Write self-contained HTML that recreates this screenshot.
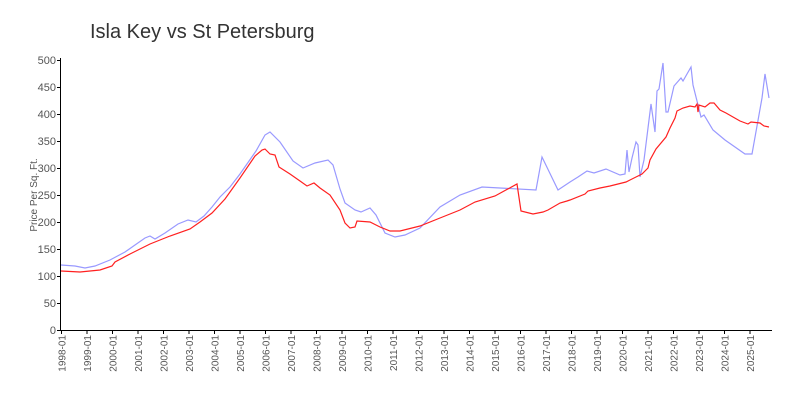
<!DOCTYPE html>
<html><head><meta charset="utf-8"><style>body{margin:0;background:#fff}svg{display:block}text{font-family:"Liberation Sans",sans-serif;fill:#555}</style></head><body>
<svg width="800" height="400" xmlns="http://www.w3.org/2000/svg">
<text x="90" y="38" font-size="20" style="fill:#333">Isla Key vs St Petersburg</text>
<text transform="translate(37,195) rotate(-90)" text-anchor="middle" font-size="10">Price Per Sq. Ft.</text>
<g font-size="11" text-anchor="end">
<text x="56" y="334">0</text><text x="56" y="307">50</text><text x="56" y="280">100</text><text x="56" y="253">150</text><text x="56" y="226">200</text><text x="56" y="199">250</text><text x="56" y="172">300</text><text x="56" y="145">350</text><text x="56" y="118">400</text><text x="56" y="91">450</text><text x="56" y="64">500</text>
</g>
<g stroke="#000" stroke-width="1">
<line x1="60.5" y1="58" x2="60.5" y2="330"/><line x1="60" y1="330.5" x2="772" y2="330.5"/>
<line x1="57" y1="330.5" x2="60" y2="330.5"/><line x1="57" y1="303.5" x2="60" y2="303.5"/><line x1="57" y1="276.5" x2="60" y2="276.5"/><line x1="57" y1="249.5" x2="60" y2="249.5"/><line x1="57" y1="222.5" x2="60" y2="222.5"/><line x1="57" y1="195.5" x2="60" y2="195.5"/><line x1="57" y1="168.5" x2="60" y2="168.5"/><line x1="57" y1="141.5" x2="60" y2="141.5"/><line x1="57" y1="114.5" x2="60" y2="114.5"/><line x1="57" y1="87.5" x2="60" y2="87.5"/><line x1="57" y1="60.5" x2="60" y2="60.5"/>
<line x1="61.5" y1="330" x2="61.5" y2="334"/><line x1="87" y1="330" x2="87" y2="334"/><line x1="112.5" y1="330" x2="112.5" y2="334"/><line x1="138" y1="330" x2="138" y2="334"/><line x1="163.5" y1="330" x2="163.5" y2="334"/><line x1="189" y1="330" x2="189" y2="334"/><line x1="214.5" y1="330" x2="214.5" y2="334"/><line x1="240" y1="330" x2="240" y2="334"/><line x1="265.5" y1="330" x2="265.5" y2="334"/><line x1="291" y1="330" x2="291" y2="334"/><line x1="316.5" y1="330" x2="316.5" y2="334"/><line x1="342" y1="330" x2="342" y2="334"/><line x1="367.5" y1="330" x2="367.5" y2="334"/><line x1="393" y1="330" x2="393" y2="334"/><line x1="418.5" y1="330" x2="418.5" y2="334"/><line x1="444" y1="330" x2="444" y2="334"/><line x1="469.5" y1="330" x2="469.5" y2="334"/><line x1="495" y1="330" x2="495" y2="334"/><line x1="520.5" y1="330" x2="520.5" y2="334"/><line x1="546" y1="330" x2="546" y2="334"/><line x1="571.5" y1="330" x2="571.5" y2="334"/><line x1="597" y1="330" x2="597" y2="334"/><line x1="622.5" y1="330" x2="622.5" y2="334"/><line x1="648" y1="330" x2="648" y2="334"/><line x1="673.5" y1="330" x2="673.5" y2="334"/><line x1="699" y1="330" x2="699" y2="334"/><line x1="724.5" y1="330" x2="724.5" y2="334"/><line x1="750" y1="330" x2="750" y2="334"/>
</g>
<g font-size="10" text-anchor="end">
<text transform="translate(65.5,335) rotate(-90)">1998-01</text>
<text transform="translate(91,335) rotate(-90)">1999-01</text>
<text transform="translate(116.5,335) rotate(-90)">2000-01</text>
<text transform="translate(142,335) rotate(-90)">2001-01</text>
<text transform="translate(167.5,335) rotate(-90)">2002-01</text>
<text transform="translate(193,335) rotate(-90)">2003-01</text>
<text transform="translate(218.5,335) rotate(-90)">2004-01</text>
<text transform="translate(244,335) rotate(-90)">2005-01</text>
<text transform="translate(269.5,335) rotate(-90)">2006-01</text>
<text transform="translate(295,335) rotate(-90)">2007-01</text>
<text transform="translate(320.5,335) rotate(-90)">2008-01</text>
<text transform="translate(346,335) rotate(-90)">2009-01</text>
<text transform="translate(371.5,335) rotate(-90)">2010-01</text>
<text transform="translate(397,335) rotate(-90)">2011-01</text>
<text transform="translate(422.5,335) rotate(-90)">2012-01</text>
<text transform="translate(448,335) rotate(-90)">2013-01</text>
<text transform="translate(473.5,335) rotate(-90)">2014-01</text>
<text transform="translate(499,335) rotate(-90)">2015-01</text>
<text transform="translate(524.5,335) rotate(-90)">2016-01</text>
<text transform="translate(550,335) rotate(-90)">2017-01</text>
<text transform="translate(575.5,335) rotate(-90)">2018-01</text>
<text transform="translate(601,335) rotate(-90)">2019-01</text>
<text transform="translate(626.5,335) rotate(-90)">2020-01</text>
<text transform="translate(652,335) rotate(-90)">2021-01</text>
<text transform="translate(677.5,335) rotate(-90)">2022-01</text>
<text transform="translate(703,335) rotate(-90)">2023-01</text>
<text transform="translate(728.5,335) rotate(-90)">2024-01</text>
<text transform="translate(754,335) rotate(-90)">2025-01</text>
</g>
<polyline fill="none" stroke="#9999ff" stroke-width="1.2" points="61,265 75,266 85,268 95,266 110,260 125,252 135,245 145,238 150,236 155,239 165,233 178,224 188,220 196,222 204,216 212,207 220,197 230,187 240,174 256,151 265,135 270,132 280,142 293,161 303,168 315,163 328,160 333,165 340,189 345,203 355,210 361,212 370,208 376,215 385,233 395,237 405,235 420,228 440,207 460,195 482,187 500,188 536,190 542,157 558,190 570,182 578,177 587,171 594,173 606,169 620,175 625,174 627,150 629,172 632,158 636,142 638,145 640,177 644,160 651,104 655,132 657,91 659,89 663,63 666,112 668,112 674,86 681,78 683,81 691,67 693,85 701,117 704,115 713,130 725,140 745,154 752,154 762,98 765,74 769,98"/>
<polyline fill="none" stroke="#ff2020" stroke-width="1.2" points="61,271 80,272 100,270 112,266 115,262 130,254 150,244 170,236 190,229 200,222 212,213 225,199 240,178 255,156 262,150 265,149 270,154 275,155 279,167 290,174 300,181 307,186 314,183 320,188 330,195 340,210 345,223 350,228 355,227 357,221 370,222 380,227 390,231 400,231 420,226 440,218 460,210 475,202 495,196 517,184 521,211 533,214 543,212 548,210 560,203 567,201 570,200 585,194 588,191 600,188 610,186 626,182 630,180 642,174 648,168 650,160 656,149 666,137 670,128 675,118 677,111 683,108 690,106 695,107 697,104 698,112 699,105 705,107 710,103 714,103 720,110 726,113 733,117 740,121 748,124 751,122 760,123 764,126 769,127"/>
</svg>
</body></html>
